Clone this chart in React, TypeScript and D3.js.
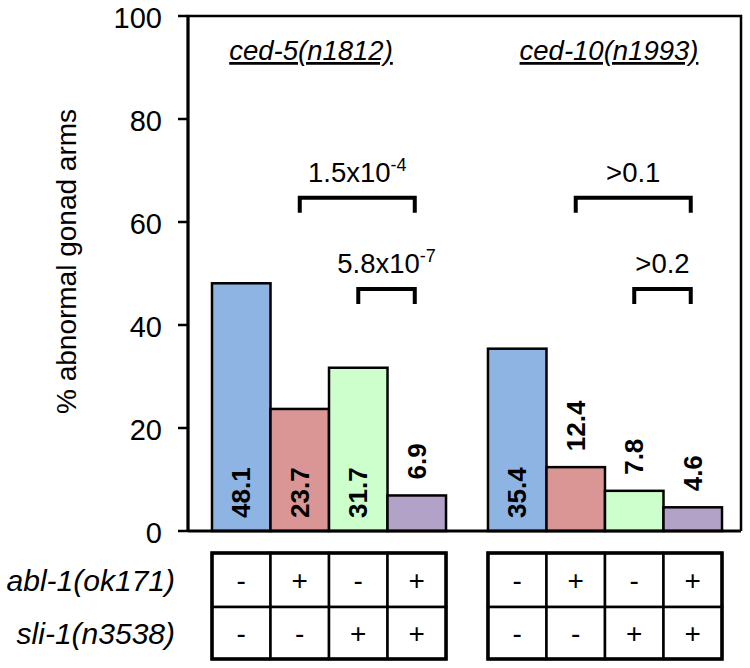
import React from 'react';
import * as d3 from 'd3';

const groups = ['ced-5(n1812)', 'ced-10(n1993)'];
const genotypes = ['none', 'abl-1', 'sli-1', 'abl-1;sli-1'];
const ced5Values = [48.1, 23.7, 31.7, 6.9];
const ced10Values = [35.4, 12.4, 7.8, 4.6];
const barColors = ['#8eb4e3', '#d99694', '#ccffcc', '#b3a2c7'];
const abl1Row = ['-', '+', '-', '+'];
const sli1Row = ['-', '-', '+', '+'];
const rowLabels = ['abl-1(ok171)', 'sli-1(n3538)'];
const yTicks = [0, 20, 40, 60, 80, 100];

// p-value brackets: group, first bar, last bar, level (%), label, exponent
const bracketGroup = [0, 0, 1, 1];
const bracketFrom = [1, 2, 1, 2];
const bracketTo = [3, 3, 3, 3];
const bracketLevel = [64.7, 47.0, 64.7, 47.0];
const bracketLabel = ['1.5x10', '5.8x10', '>0.1', '>0.2'];
const bracketExp = ['-4', '-7', '', ''];

const W = 750;
const H = 668;
const font = 'Arial, "Liberation Sans", Helvetica, sans-serif';

export default function App() {
  const left = 188, top = 16, right = 741, bottom = 531;
  const y = d3.scaleLinear().domain([0, 100]).range([bottom, top]);
  const xGroup = d3.scaleBand().domain(groups).range([212, 722]).paddingInner(0.152);
  const xBar = d3.scaleBand().domain(genotypes).range([0, xGroup.bandwidth()]);
  const values = [ced5Values, ced10Values];
  const bw = xBar.bandwidth();
  const rowTop = [553, 607];
  const rowBottom = 659;
  const tableRows = [abl1Row, sli1Row];
  const titleShift = [-18, 4];

  const barX = (g: number, i: number) => (xGroup(groups[g]) as number) + (xBar(genotypes[i]) as number);

  return (
    <svg width={W} height={H} style={{ position: 'absolute', left: 0, top: 0, background: '#fff' }} fontFamily={font}>
      {/* bars */}
      {groups.map((g, gi) =>
        values[gi].map((v, i) => (
          <rect key={g + i} x={barX(gi, i)} y={y(v)} width={bw} height={y(0) - y(v)}
            fill={barColors[i]} stroke="#000" strokeWidth={2.5} />
        ))
      )}
      {/* bar value labels */}
      {groups.map((g, gi) =>
        values[gi].map((v, i) => {
          const cx = barX(gi, i) + bw / 2;
          const inside = v > 20;
          const ty = inside ? y(0) - 13 : y(v) - 16;
          return (
            <text key={'l' + g + i} transform={`translate(${cx + 9},${ty}) rotate(-90)`}
              fontSize={26} fontWeight="bold" textAnchor="start">{v.toFixed(1)}</text>
          );
        })
      )}
      {/* frame and axis */}
      <path d={`M${left},${bottom} V${top} H${right} V${bottom}`} fill="none" stroke="#000" strokeWidth={2.5} />
      <line x1={left} x2={right} y1={bottom} y2={bottom} stroke="#000" strokeWidth={3} />
      <line x1={left} x2={left} y1={top} y2={bottom} stroke="#000" strokeWidth={3} />
      {yTicks.map(t => (
        <g key={t}>
          <line x1={left - 10} x2={left} y1={y(t)} y2={y(t)} stroke="#000" strokeWidth={2.5} />
          <text x={162} y={y(t) + 2} dy="0.35em" textAnchor="end" fontSize={29}>{t}</text>
        </g>
      ))}
      <text transform={`translate(76,${(top + bottom) / 2 - 12}) rotate(-90)`} textAnchor="middle" fontSize={28}>
        % abnormal gonad arms
      </text>
      {/* group titles */}
      {groups.map((g, gi) => (
        <text key={g} x={(xGroup(g) as number) + xGroup.bandwidth() / 2 + titleShift[gi]} y={60}
          textAnchor="middle" fontSize={27.5} fontStyle="italic" textDecoration="underline">{g}</text>
      ))}
      {/* brackets */}
      {bracketLabel.map((lab, k) => {
        const gi = bracketGroup[k];
        const x1 = barX(gi, bracketFrom[k]) + bw / 2;
        const x2 = barX(gi, bracketTo[k]) + bw / 2 - 2;
        const by = y(bracketLevel[k]);
        return (
          <g key={'b' + k}>
            <path d={`M${x1},${by + 15} V${by} H${x2} V${by + 15}`} fill="none" stroke="#000" strokeWidth={4} />
            <text x={(x1 + x2) / 2} y={by - 16} textAnchor="middle" fontSize={27.5}>
              {lab}
              {bracketExp[k] && <tspan dy={-11} fontSize={18}>{bracketExp[k]}</tspan>}
            </text>
          </g>
        );
      })}
      {/* genotype table */}
      {groups.map((g, gi) => {
        const gx = xGroup(g) as number;
        return (
          <g key={'t' + g}>
            {tableRows.map((row, ri) =>
              row.map((s, i) => {
                const x0 = gx + (xBar(genotypes[i]) as number);
                const y0 = rowTop[ri];
                const y1 = ri === 0 ? rowTop[1] : rowBottom;
                return (
                  <g key={ri + '-' + i}>
                    <rect x={x0} y={y0} width={bw} height={y1 - y0} fill="#fff" stroke="#000" strokeWidth={2.5} />
                    <text x={x0 + bw / 2} y={(y0 + y1) / 2} dy="0.35em" textAnchor="middle" fontSize={28}>{s}</text>
                  </g>
                );
              })
            )}
            <rect x={gx} y={rowTop[0]} width={xGroup.bandwidth()} height={rowBottom - rowTop[0]} fill="none" stroke="#000" strokeWidth={3.5} />
          </g>
        );
      })}
      {rowLabels.map((r, ri) => (
        <text key={r} x={175} y={ri === 0 ? 580 : 633} dy="0.35em" textAnchor="end" fontSize={30} fontStyle="italic">{r}</text>
      ))}
    </svg>
  );
}
